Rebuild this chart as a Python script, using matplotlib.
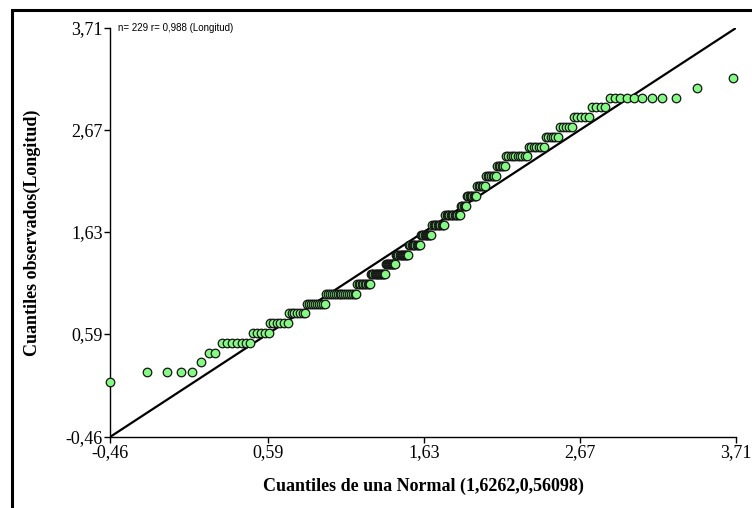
"""
Gráfico Q-Q normal de la variable Longitud
"""
import numpy as np
import matplotlib.pyplot as plt
from matplotlib.patches import Rectangle

# Niveles observados (Longitud) y cuantiles teóricos de cada nivel
niveles = [0.1, 0.2, 0.3, 0.4, 0.5, 0.6, 0.7, 0.8, 0.9, 1.0, 1.1, 1.2, 1.3, 1.4, 1.5, 1.6,
           1.7, 1.8, 1.9, 2.0, 2.1, 2.2, 2.3, 2.4, 2.5, 2.6, 2.7, 2.8, 2.9, 3.0, 3.1, 3.2]
teoricos = [
    [-0.46],
    [-0.216, -0.083, 0.012, 0.083],
    [0.149],
    [0.200, 0.242],
    [0.286, 0.322, 0.355, 0.389, 0.422, 0.448, 0.475],
    [0.492, 0.521, 0.548, 0.575, 0.596],
    [0.603, 0.627, 0.651, 0.675, 0.699, 0.723],
    [0.730, 0.749, 0.768, 0.787, 0.806, 0.824, 0.842],
    [0.850, 0.864, 0.878, 0.892, 0.906, 0.920, 0.934, 0.948, 0.962, 0.975],
    [0.982, 0.994, 1.007, 1.019, 1.032, 1.044, 1.057, 1.069, 1.082, 1.094, 1.107, 1.119,
     1.132, 1.144, 1.157, 1.169, 1.181],
    [1.188, 1.198, 1.207, 1.217, 1.227, 1.236, 1.246, 1.256, 1.265, 1.275],
    [1.281, 1.288, 1.295, 1.303, 1.310, 1.317, 1.324, 1.331, 1.338, 1.345, 1.353, 1.360,
     1.367, 1.374],
    [1.381, 1.387, 1.393, 1.399, 1.405, 1.411, 1.416, 1.422, 1.428, 1.434, 1.440],
    [1.447, 1.454, 1.461, 1.469, 1.476, 1.483, 1.491, 1.498, 1.505, 1.512, 1.520, 1.527],
    [1.533, 1.541, 1.549, 1.557, 1.565, 1.574, 1.582, 1.590, 1.598, 1.606],
    [1.613, 1.620, 1.628, 1.635, 1.643, 1.650, 1.658, 1.665, 1.673, 1.680],
    [1.686, 1.695, 1.704, 1.713, 1.722, 1.731, 1.740, 1.749, 1.758, 1.766],
    [1.773, 1.782, 1.791, 1.800, 1.809, 1.818, 1.827, 1.836, 1.845, 1.854, 1.863, 1.872],
    [1.879, 1.887, 1.895, 1.904, 1.912],
    [1.919, 1.928, 1.936, 1.945, 1.953, 1.962, 1.970, 1.979],
    [1.985, 1.996, 2.006, 2.017, 2.027, 2.038],
    [2.045, 2.056, 2.067, 2.078, 2.089, 2.100, 2.111],
    [2.118, 2.129, 2.139, 2.150, 2.160, 2.171],
    [2.178, 2.193, 2.209, 2.224, 2.240, 2.255, 2.271, 2.286, 2.302, 2.317],
    [2.331, 2.347, 2.364, 2.380, 2.397, 2.413, 2.430],
    [2.444, 2.460, 2.476, 2.491, 2.507, 2.523],
    [2.537, 2.557, 2.577, 2.596, 2.616],
    [2.630, 2.653, 2.676, 2.703, 2.729],
    [2.751, 2.778, 2.809, 2.840],
    [2.869, 2.902, 2.939, 2.982, 3.028, 3.082, 3.148, 3.218, 3.312],
    [3.447],
    [3.693],
]
# Marcas de los ejes
marcas = [-0.46, 0.59, 1.63, 2.67, 3.71]
etiquetas = ['-0,46', '0,59', '1,63', '2,67', '3,71']

# Armar los vectores x (teórico) e y (observado)
x = np.concatenate([np.array(t) for t in teoricos])
y = np.concatenate([np.full(len(t), n) for n, t in zip(niveles, teoricos)])

fig = plt.figure(figsize=(7.52, 5.08), dpi=100)
ax = fig.add_axes([0.1463, 0.1398, 0.8324, 0.8051])

# Recta de referencia y = x
ax.plot([marcas[0], marcas[-1]], [marcas[0], marcas[-1]], color='black', lw=1.6, zorder=2)
ax.scatter(x, y, s=38, facecolor='#84FA84', edgecolor='#151515', linewidths=0.9, zorder=3,
           clip_on=False)

ax.set_xlim(marcas[0], marcas[-1])
ax.set_ylim(marcas[0], marcas[-1])
ax.set_xticks(marcas)
ax.set_yticks(marcas)
ax.set_xticklabels(etiquetas, family='Liberation Serif', fontsize=13)
ax.set_yticklabels(etiquetas, family='Liberation Serif', fontsize=13)
ax.tick_params(direction='out', length=4, width=1, pad=1, color='black')
for lado in ['top', 'right']:
    ax.spines[lado].set_visible(False)
for lado in ['left', 'bottom']:
    ax.spines[lado].set_linewidth(1)

ax.set_xlabel('Cuantiles de una Normal (1,6262,0,56098)', family='Liberation Serif',
              fontsize=13, fontweight='bold', labelpad=12)
ax.set_ylabel('Cuantiles observados(Longitud)', family='Liberation Serif',
              fontsize=13, fontweight='bold', labelpad=18)
ax.text(0.012, 1.0, 'n= 229 r= 0,988 (Longitud)', transform=ax.transAxes,
        family='Liberation Sans', fontsize=7, va='center', ha='left')

# Marco exterior
fig.patches.append(Rectangle((12 / 752, -0.05), 2.0, 1.0 - 10 / 508 + 0.05,
                             transform=fig.transFigure, fill=False, edgecolor='black',
                             linewidth=2.2))

fig.savefig('out.png', dpi=100)
